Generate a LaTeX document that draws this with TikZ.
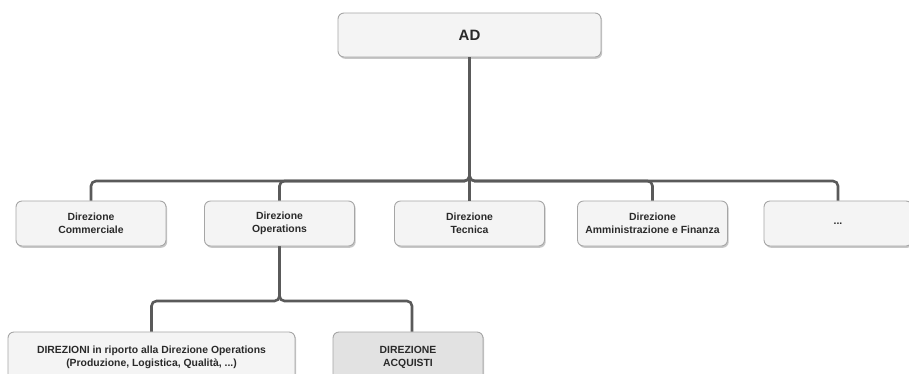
\documentclass[tikz,border=0pt]{standalone}
\usepackage{fontspec}
\setmainfont{Liberation Sans}
\usetikzlibrary{shadows}

\definecolor{boxfill}{HTML}{F4F4F4}
\definecolor{boxfilldark}{HTML}{E2E2E2}
\definecolor{boxline}{HTML}{A6A6A6}
\definecolor{connc}{HTML}{5A5A5A}
\definecolor{txt}{HTML}{2A2A2A}

\tikzset{
  orgbox/.style={draw=boxline, fill=boxfill, line width=0.9pt, rounded corners=6pt,
    minimum width=150pt, minimum height=45pt, align=center, inner sep=2pt,
    text=txt, font=\bfseries\fontsize{10.4}{13}\selectfont,
    drop shadow={shadow xshift=1.2pt, shadow yshift=-1.8pt, opacity=0.22, fill=black}},
  topbox/.style={orgbox, minimum width=263pt, minimum height=44pt,
    font=\bfseries\fontsize{15}{18}\selectfont},
  conn/.style={draw=connc, line width=2.6pt, rounded corners=5pt},
}

\begin{document}
\begin{tikzpicture}[x=1pt, y=-1pt]
  \useasboundingbox (0,0) rectangle (909,373);
  \fill[white] (0,0) rectangle (909,373);
  \clip (0,0) rectangle (909,373);

  % top level
  \node[topbox] (ad) at (469.5,35) {AD};

  % second level
  \node[orgbox] (com)  at (91,223.5)    {Direzione\\Commerciale};
  \node[orgbox] (ope)  at (279.5,223.5) {Direzione\\Operations};
  \node[orgbox] (tec)  at (469.5,223.5) {Direzione\\Tecnica};
  \node[orgbox] (amm)  at (652.5,223.5) {Direzione\\Amministrazione e Finanza};
  \node[orgbox, minimum width=148pt] (more) at (838,223.5) {...};

  % third level
  \node[orgbox, minimum width=287pt, minimum height=50pt] (dir) at (151.5,357)
    {DIREZIONI in riporto alla Direzione Operations\\(Produzione, Logistica, Qualità, ...)};
  \node[orgbox, fill=boxfilldark, minimum height=50pt] (acq) at (408,357)
    {DIREZIONE\\ACQUISTI};

  % connectors from AD
  \coordinate (bus1) at (469.5,181);
  \foreach \c in {com,ope,amm,more}
    \draw[conn] (ad.south) -- (ad.south |- bus1) -| (\c.north);
  \draw[conn] (ad.south) -- (tec.north);

  % connectors from Direzione Operations
  \coordinate (bus2) at (279.5,301);
  \draw[conn] (ope.south) -- (ope.south |- bus2) -| (dir.north);
  \draw[conn] (ope.south) -- (ope.south |- bus2) -| ([xshift=4pt]acq.north);
\end{tikzpicture}
\end{document}
